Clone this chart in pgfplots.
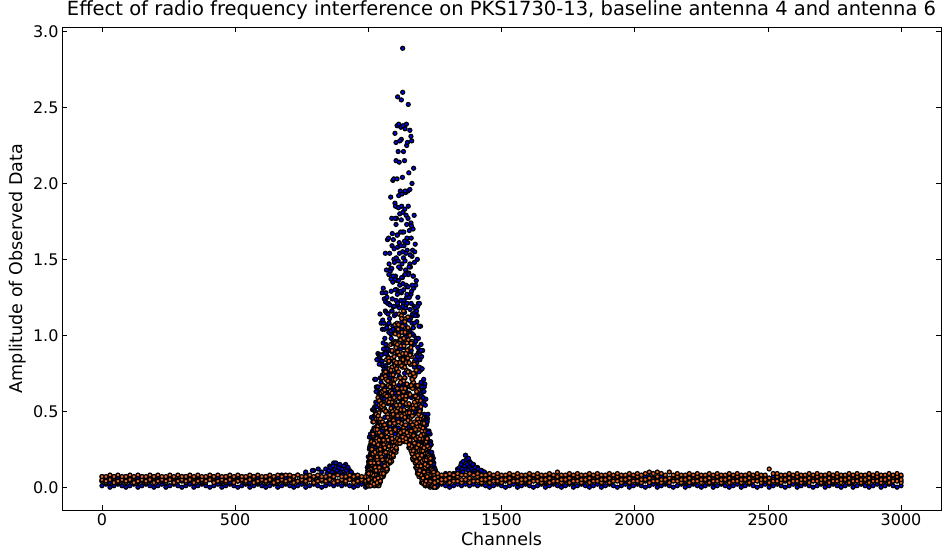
\documentclass[border=0pt]{standalone}
\usepackage{pgfplots}
\pgfplotsset{compat=1.18}
\usepackage{pgfplotstable}
\usepackage{fontspec}
\setmainfont{DejaVu Sans}
\definecolor{bfill}{RGB}{0,0,255}
\definecolor{ofill}{RGB}{240,105,40}
\pgfplotsset{
 bdot/.style={only marks, mark=*, mark size=2.0pt, mark options={fill=bfill, draw=black, line width=1.2pt}},
 odot/.style={only marks, mark=*, mark size=2.0pt, mark options={fill=ofill, draw=black, line width=1.2pt}},
}
\pgfplotstableread{
x b1 b2 b3 o1 o2 o3
0 0.01 0.04 0.07 0.04 0.05 0.07
15 0.02 0.05 0.06 0.03 0.04 0.07
30 0.00 0.03 0.06 0.05 0.05 0.08
45 0.01 0.05 0.07 0.03 0.06 0.07
60 0.02 0.03 0.06 0.04 0.04 0.08
75 0.01 0.04 0.05 0.04 0.05 0.07
90 0.00 0.05 0.07 0.03 0.04 0.07
105 0.01 0.04 0.07 0.05 0.05 0.08
120 0.02 0.05 0.06 0.03 0.06 0.07
135 0.00 0.03 0.06 0.04 0.04 0.08
150 0.01 0.05 0.07 0.04 0.05 0.07
165 0.02 0.03 0.06 0.03 0.04 0.07
180 0.01 0.04 0.05 0.05 0.05 0.08
195 0.00 0.05 0.07 0.03 0.06 0.07
210 0.01 0.04 0.07 0.04 0.04 0.08
225 0.02 0.05 0.06 0.04 0.05 0.07
240 0.00 0.03 0.06 0.03 0.04 0.07
255 0.01 0.05 0.07 0.05 0.05 0.08
270 0.02 0.03 0.06 0.03 0.06 0.07
285 0.01 0.04 0.05 0.04 0.04 0.08
300 0.00 0.05 0.07 0.04 0.05 0.07
315 0.01 0.04 0.07 0.03 0.04 0.07
330 0.02 0.05 0.06 0.05 0.05 0.08
345 0.00 0.03 0.06 0.03 0.06 0.07
360 0.01 0.05 0.07 0.04 0.04 0.08
375 0.02 0.03 0.06 0.04 0.05 0.07
390 0.01 0.04 0.05 0.03 0.04 0.07
405 0.00 0.05 0.07 0.05 0.05 0.08
420 0.01 0.04 0.07 0.03 0.06 0.07
435 0.02 0.05 0.06 0.04 0.04 0.08
450 0.00 0.03 0.06 0.04 0.05 0.07
465 0.01 0.05 0.07 0.03 0.04 0.07
480 0.02 0.03 0.06 0.05 0.05 0.08
495 0.01 0.04 0.05 0.03 0.06 0.07
510 0.00 0.05 0.07 0.04 0.04 0.08
525 0.01 0.04 0.07 0.04 0.05 0.07
540 0.02 0.05 0.06 0.03 0.04 0.07
555 0.00 0.03 0.06 0.05 0.05 0.08
570 0.01 0.05 0.07 0.03 0.06 0.07
585 0.02 0.03 0.06 0.04 0.04 0.08
600 0.01 0.04 0.05 0.04 0.05 0.07
615 0.00 0.05 0.07 0.03 0.04 0.07
630 0.01 0.04 0.07 0.05 0.05 0.08
645 0.02 0.05 0.06 0.03 0.06 0.07
660 0.00 0.03 0.06 0.04 0.04 0.08
675 0.01 0.05 0.08 0.04 0.05 0.07
690 0.02 0.03 0.06 0.03 0.04 0.08
705 0.01 0.04 0.05 0.05 0.05 0.08
720 0.00 0.05 0.07 0.03 0.06 0.07
735 0.01 0.04 0.08 0.04 0.04 0.08
750 0.02 0.05 0.06 0.04 0.05 0.07
765 0.00 0.03 0.09 0.03 0.04 0.07
780 0.01 0.05 0.07 0.05 0.05 0.08
795 0.02 0.03 0.11 0.03 0.06 0.07
810 0.01 0.04 0.07 0.04 0.04 0.08
825 0.00 0.05 0.10 0.04 0.05 0.07
840 0.01 0.06 0.12 0.03 0.04 0.07
855 0.02 0.08 0.14 0.05 0.05 0.08
870 0.01 0.09 0.16 0.03 0.06 0.07
885 0.02 0.10 0.15 0.04 0.04 0.08
900 0.01 0.08 0.13 0.04 0.05 0.07
915 0.02 0.07 0.15 0.03 0.04 0.07
930 0.01 0.06 0.11 0.05 0.05 0.08
945 0.00 0.05 0.08 0.03 0.06 0.07
960 0.01 0.04 0.07 0.04 0.04 0.08
975 0.02 0.05 0.06 0.04 0.05 0.07
990 0.00 0.03 0.06 0.03 0.04 0.07
1005 0.01 0.05 0.07 0.05 0.05 0.08
1020 0.02 0.03 0.06 0.03 0.06 0.07
1035 0.01 0.04 0.05 0.04 0.04 0.08
1215 0.01 0.04 0.07 0.04 0.05 0.08
1230 0.02 0.05 0.06 0.03 0.06 0.09
1245 0.00 0.03 0.06 0.05 0.04 0.08
1260 0.01 0.05 0.07 0.04 0.07 0.09
1275 0.02 0.03 0.06 0.03 0.05 0.08
1290 0.01 0.04 0.05 0.04 0.05 0.08
1305 0.00 0.05 0.07 0.03 0.06 0.09
1320 0.01 0.06 0.09 0.05 0.04 0.08
1335 0.02 0.08 0.12 0.04 0.07 0.09
1350 0.01 0.10 0.16 0.03 0.05 0.08
1365 0.02 0.12 0.21 0.04 0.05 0.08
1380 0.01 0.11 0.17 0.03 0.06 0.09
1395 0.02 0.09 0.15 0.05 0.04 0.08
1410 0.01 0.08 0.13 0.04 0.07 0.09
1425 0.02 0.06 0.11 0.03 0.05 0.08
1440 0.01 0.05 0.09 0.04 0.05 0.08
1455 0.00 0.03 0.06 0.03 0.06 0.09
1470 0.01 0.05 0.07 0.05 0.04 0.08
1485 0.02 0.03 0.06 0.04 0.07 0.09
1500 0.01 0.04 0.05 0.03 0.05 0.08
1515 0.00 0.05 0.07 0.04 0.05 0.08
1530 0.01 0.04 0.07 0.03 0.06 0.09
1545 0.02 0.05 0.06 0.05 0.04 0.08
1560 0.00 0.03 0.06 0.04 0.07 0.09
1575 0.01 0.05 0.07 0.03 0.05 0.08
1590 0.02 0.03 0.06 0.04 0.05 0.08
1605 0.01 0.04 0.05 0.03 0.06 0.09
1620 0.00 0.05 0.07 0.05 0.04 0.08
1635 0.01 0.04 0.07 0.04 0.07 0.09
1650 0.02 0.05 0.06 0.03 0.05 0.08
1665 0.00 0.03 0.06 0.04 0.05 0.08
1680 0.01 0.05 0.07 0.03 0.06 0.09
1695 0.02 0.03 0.06 0.05 0.04 0.08
1710 0.01 0.04 0.05 0.04 0.07 0.10
1725 0.00 0.05 0.07 0.03 0.05 0.08
1740 0.01 0.04 0.07 0.04 0.05 0.08
1755 0.02 0.05 0.06 0.03 0.06 0.09
1770 0.00 0.03 0.06 0.05 0.04 0.08
1785 0.01 0.05 0.07 0.04 0.07 0.09
1800 0.02 0.03 0.06 0.03 0.05 0.08
1815 0.01 0.04 0.05 0.04 0.05 0.08
1830 0.00 0.05 0.07 0.03 0.06 0.09
1845 0.01 0.04 0.07 0.05 0.04 0.08
1860 0.02 0.05 0.06 0.04 0.07 0.09
1875 0.00 0.03 0.06 0.03 0.05 0.08
1890 0.01 0.05 0.07 0.04 0.05 0.08
1905 0.02 0.03 0.06 0.03 0.06 0.09
1920 0.01 0.04 0.05 0.05 0.04 0.08
1935 0.00 0.05 0.07 0.04 0.07 0.09
1950 0.01 0.04 0.07 0.03 0.05 0.08
1965 0.02 0.05 0.06 0.04 0.05 0.08
1980 0.00 0.03 0.06 0.03 0.06 0.09
1995 0.01 0.05 0.07 0.05 0.04 0.08
2010 0.02 0.03 0.06 0.04 0.07 0.09
2025 0.01 0.04 0.05 0.03 0.05 0.08
2040 0.00 0.05 0.07 0.04 0.05 0.09
2055 0.01 0.04 0.07 0.03 0.06 0.10
2070 0.02 0.05 0.06 0.05 0.04 0.09
2085 0.00 0.03 0.06 0.04 0.07 0.10
2100 0.01 0.05 0.07 0.03 0.05 0.09
2115 0.02 0.03 0.06 0.04 0.05 0.08
2130 0.01 0.04 0.05 0.03 0.06 0.10
2145 0.00 0.05 0.07 0.05 0.04 0.08
2160 0.01 0.04 0.07 0.04 0.07 0.09
2175 0.02 0.05 0.06 0.03 0.05 0.08
2190 0.00 0.03 0.06 0.04 0.05 0.08
2205 0.01 0.05 0.07 0.03 0.06 0.09
2220 0.02 0.03 0.06 0.05 0.04 0.08
2235 0.01 0.04 0.05 0.04 0.07 0.09
2250 0.00 0.05 0.07 0.03 0.05 0.08
2265 0.01 0.04 0.07 0.04 0.05 0.08
2280 0.02 0.05 0.06 0.03 0.06 0.09
2295 0.00 0.03 0.06 0.05 0.04 0.08
2310 0.01 0.05 0.07 0.04 0.07 0.09
2325 0.02 0.03 0.06 0.03 0.05 0.08
2340 0.01 0.04 0.05 0.04 0.05 0.08
2355 0.00 0.05 0.07 0.03 0.06 0.09
2370 0.01 0.04 0.07 0.05 0.04 0.08
2385 0.02 0.05 0.06 0.04 0.07 0.09
2400 0.00 0.03 0.06 0.03 0.05 0.08
2415 0.01 0.05 0.07 0.04 0.05 0.08
2430 0.02 0.03 0.06 0.03 0.06 0.09
2445 0.01 0.04 0.05 0.05 0.04 0.08
2460 0.00 0.05 0.07 0.04 0.07 0.09
2475 0.01 0.04 0.07 0.03 0.05 0.08
2490 0.02 0.05 0.06 0.04 0.05 0.08
2505 0.00 0.03 0.06 0.03 0.06 0.12
2520 0.01 0.05 0.07 0.05 0.04 0.09
2535 0.02 0.03 0.06 0.04 0.07 0.09
2550 0.01 0.04 0.05 0.03 0.05 0.08
2565 0.00 0.05 0.07 0.04 0.05 0.08
2580 0.01 0.04 0.07 0.03 0.06 0.09
2595 0.02 0.05 0.06 0.05 0.04 0.08
2610 0.00 0.03 0.06 0.04 0.07 0.09
2625 0.01 0.05 0.07 0.03 0.05 0.08
2640 0.02 0.03 0.06 0.04 0.05 0.08
2655 0.01 0.04 0.05 0.03 0.06 0.09
2670 0.00 0.05 0.07 0.05 0.04 0.08
2685 0.01 0.04 0.07 0.04 0.07 0.09
2700 0.02 0.05 0.06 0.03 0.05 0.08
2715 0.00 0.03 0.06 0.04 0.05 0.08
2730 0.01 0.05 0.07 0.03 0.06 0.09
2745 0.02 0.03 0.06 0.05 0.04 0.08
2760 0.01 0.04 0.05 0.04 0.07 0.09
2775 0.00 0.05 0.07 0.03 0.05 0.08
2790 0.01 0.04 0.07 0.04 0.05 0.08
2805 0.02 0.05 0.06 0.03 0.06 0.09
2820 0.00 0.03 0.06 0.05 0.04 0.08
2835 0.01 0.05 0.07 0.04 0.07 0.09
2850 0.02 0.03 0.06 0.03 0.05 0.08
2865 0.01 0.04 0.05 0.04 0.05 0.08
2880 0.00 0.05 0.07 0.03 0.06 0.09
2895 0.01 0.04 0.07 0.05 0.04 0.08
2910 0.02 0.05 0.06 0.04 0.07 0.09
2925 0.00 0.03 0.06 0.03 0.05 0.08
2940 0.01 0.05 0.07 0.04 0.05 0.08
2955 0.02 0.03 0.06 0.03 0.06 0.09
2970 0.01 0.04 0.05 0.05 0.04 0.08
2985 0.00 0.05 0.07 0.04 0.07 0.09
3000 0.01 0.04 0.07 0.03 0.05 0.08
}\base
\pgfplotstableread{
x a b c d e
996 0.01 0.03 0.06 0.09 0.13
1000 0.02 0.04 0.09 0.14 0.20
1004 0.01 0.10 0.16 0.25 0.33
1008 0.05 0.13 0.22 0.28 0.35
1012 0.03 0.10 0.22 0.29 0.46
1016 0.02 0.13 0.24 0.37 0.51
1020 0.06 0.11 0.23 0.36 0.51
1024 0.02 0.21 0.35 0.53 0.71
1028 0.10 0.26 0.44 0.56 0.71
1032 0.06 0.17 0.40 0.53 0.84
1036 0.04 0.22 0.41 0.63 0.88
1040 0.10 0.19 0.39 0.61 0.87
1044 0.03 0.34 0.57 0.84 1.14
1048 0.17 0.42 0.69 0.87 1.08
1052 0.11 0.29 0.63 0.83 1.28
1056 0.11 0.36 0.64 0.95 1.31
1060 0.19 0.31 0.58 0.88 1.24
1064 0.10 0.50 0.80 1.16 1.54
1068 0.27 0.58 0.92 1.15 1.43
1072 0.20 0.42 0.84 1.07 1.63
1076 0.18 0.49 0.82 1.21 1.64
1080 0.29 0.43 0.76 1.11 1.54
1084 0.18 0.66 1.01 1.44 1.91
1088 0.38 0.75 1.16 1.44 1.77
1092 0.29 0.56 1.06 1.35 2.02
1096 0.26 0.64 1.04 1.50 2.03
1100 0.39 0.56 0.94 1.37 1.87
1104 0.25 0.82 1.23 1.73 2.27
1108 0.49 0.90 1.36 1.66 2.03
1112 0.37 0.65 1.19 1.49 2.21
1116 0.35 0.73 1.14 1.61 2.14
1120 0.46 0.63 1.02 1.44 1.95
1124 0.32 0.87 1.28 1.76 2.29
1128 0.53 0.94 1.38 1.68 2.04
1132 0.41 0.68 1.21 1.51 2.21
1136 0.36 0.75 1.15 1.62 2.15
1140 0.46 0.63 1.01 1.43 1.94
1144 0.31 0.85 1.25 1.73 2.25
1148 0.50 0.89 1.32 1.61 1.95
1152 0.36 0.62 1.12 1.41 2.07
1156 0.30 0.66 1.03 1.47 1.96
1160 0.38 0.53 0.88 1.27 1.74
1164 0.22 0.72 1.08 1.52 2.00
1168 0.38 0.74 1.13 1.39 1.70
1172 0.25 0.48 0.94 1.19 1.79
1176 0.19 0.49 0.81 1.18 1.60
1180 0.24 0.37 0.66 0.98 1.36
1184 0.11 0.50 0.79 1.13 1.50
1188 0.23 0.49 0.78 0.98 1.21
1192 0.13 0.29 0.61 0.79 1.21
1196 0.08 0.29 0.51 0.77 1.06
1200 0.11 0.20 0.39 0.60 0.86
1204 0.03 0.27 0.45 0.67 0.90
1208 0.10 0.26 0.44 0.56 0.71
1212 0.04 0.14 0.33 0.44 0.68
1216 0.03 0.15 0.27 0.42 0.58
1220 0.05 0.10 0.20 0.32 0.46
1224 0.01 0.14 0.24 0.35 0.48
1228 0.05 0.14 0.23 0.29 0.37
1232 0.02 0.07 0.17 0.22 0.35
1236 0.01 0.07 0.13 0.20 0.28
1240 0.02 0.04 0.09 0.14 0.21
1244 0.00 0.06 0.09 0.14 0.19
1248 0.02 0.05 0.08 0.11 0.13
1252 0.01 0.02 0.05 0.07 0.11
1256 0.00 0.02 0.04 0.06 0.09
1260 0.01 0.03 0.05 0.07 0.08
}\bpeak
\pgfplotstableread{
x a b c d
998 0.02 0.05 0.08 0.11
1002 0.03 0.07 0.11 0.16
1006 0.07 0.13 0.20 0.27
1010 0.06 0.14 0.21 0.30
1014 0.05 0.14 0.23 0.31
1018 0.12 0.22 0.32 0.45
1022 0.10 0.21 0.33 0.47
1026 0.08 0.20 0.34 0.47
1030 0.17 0.32 0.48 0.66
1034 0.14 0.30 0.46 0.66
1038 0.10 0.27 0.45 0.62
1042 0.22 0.42 0.62 0.86
1046 0.19 0.40 0.61 0.87
1050 0.15 0.37 0.60 0.81
1054 0.30 0.55 0.80 1.10
1058 0.26 0.52 0.77 1.08
1062 0.21 0.46 0.73 0.98
1066 0.38 0.66 0.94 1.28
1070 0.32 0.61 0.89 1.25
1074 0.27 0.55 0.86 1.14
1078 0.46 0.77 1.08 1.47
1082 0.40 0.72 1.03 1.42
1086 0.33 0.64 0.98 1.29
1090 0.54 0.89 1.24 1.67
1094 0.47 0.84 1.19 1.63
1098 0.39 0.75 1.13 1.48
1102 0.62 1.01 1.39 1.85
1106 0.54 0.93 1.30 1.77
1110 0.45 0.82 1.21 1.58
1114 0.67 1.06 1.45 1.92
1118 0.58 0.97 1.33 1.80
1122 0.48 0.85 1.23 1.59
1126 0.70 1.09 1.47 1.93
1130 0.60 0.98 1.34 1.81
1134 0.49 0.85 1.23 1.59
1138 0.72 1.07 1.49 1.95
1142 0.59 0.97 1.33 1.79
1146 0.48 0.83 1.21 1.56
1150 0.67 1.04 1.40 1.85
1154 0.54 0.90 1.25 1.69
1158 0.42 0.75 1.11 1.45
1162 0.59 0.94 1.29 1.72
1166 0.47 0.81 1.14 1.56
1170 0.35 0.66 1.00 1.31
1174 0.50 0.83 1.15 1.55
1178 0.37 0.67 0.96 1.33
1182 0.26 0.53 0.82 1.09
1186 0.38 0.65 0.92 1.25
1190 0.27 0.52 0.76 1.06
1194 0.18 0.39 0.62 0.84
1198 0.26 0.48 0.69 0.94
1202 0.18 0.37 0.55 0.78
1206 0.10 0.26 0.43 0.59
1210 0.17 0.32 0.48 0.66
1214 0.11 0.25 0.38 0.54
1218 0.07 0.18 0.30 0.41
1222 0.12 0.22 0.32 0.45
1226 0.08 0.17 0.25 0.36
1230 0.04 0.12 0.20 0.27
1234 0.08 0.14 0.21 0.30
1238 0.05 0.11 0.16 0.23
1242 0.03 0.07 0.12 0.16
1246 0.04 0.08 0.11 0.16
1250 0.02 0.05 0.08 0.12
1254 0.01 0.03 0.05 0.07
1258 0.02 0.04 0.06 0.08
}\bpeakb
\pgfplotstableread{
x a b c d
1001 0.03 0.08 0.12 0.17
1005 0.02 0.13 0.18 0.26
1009 0.08 0.11 0.18 0.25
1013 0.07 0.15 0.24 0.33
1017 0.04 0.21 0.30 0.43
1021 0.12 0.17 0.28 0.39
1025 0.10 0.23 0.36 0.50
1029 0.06 0.31 0.44 0.63
1033 0.17 0.24 0.40 0.55
1037 0.13 0.30 0.48 0.66
1041 0.08 0.40 0.57 0.81
1045 0.22 0.32 0.52 0.72
1049 0.19 0.40 0.63 0.87
1053 0.13 0.52 0.74 1.04
1057 0.31 0.42 0.67 0.91
1061 0.25 0.51 0.78 1.04
1065 0.18 0.63 0.88 1.22
1069 0.37 0.50 0.78 1.05
1073 0.32 0.60 0.91 1.21
1077 0.23 0.74 1.02 1.40
1081 0.45 0.60 0.90 1.20
1085 0.38 0.70 1.03 1.37
1089 0.29 0.85 1.16 1.59
1093 0.53 0.70 1.04 1.39
1097 0.45 0.81 1.19 1.57
1101 0.35 0.96 1.30 1.77
1105 0.60 0.77 1.14 1.51
1109 0.51 0.88 1.27 1.66
1113 0.39 1.02 1.36 1.84
1117 0.65 0.82 1.18 1.54
1121 0.55 0.91 1.29 1.68
1125 0.43 1.04 1.38 1.85
1129 0.66 0.83 1.19 1.55
1133 0.56 0.92 1.30 1.68
1137 0.45 1.01 1.40 1.83
1141 0.65 0.82 1.18 1.54
1145 0.54 0.89 1.27 1.64
1149 0.40 0.99 1.32 1.77
1153 0.60 0.76 1.10 1.45
1157 0.48 0.81 1.17 1.53
1161 0.34 0.90 1.21 1.64
1165 0.53 0.68 1.01 1.33
1169 0.40 0.72 1.05 1.39
1173 0.27 0.79 1.08 1.48
1177 0.42 0.56 0.84 1.13
1181 0.31 0.58 0.87 1.16
1185 0.19 0.62 0.86 1.19
1189 0.31 0.42 0.66 0.89
1193 0.22 0.43 0.66 0.89
1197 0.11 0.45 0.64 0.90
1201 0.21 0.30 0.48 0.66
1205 0.13 0.29 0.46 0.63
1209 0.06 0.31 0.44 0.63
1213 0.14 0.20 0.32 0.45
1217 0.09 0.20 0.32 0.44
1221 0.04 0.21 0.30 0.43
1225 0.09 0.13 0.22 0.30
1229 0.06 0.13 0.21 0.29
1233 0.03 0.14 0.20 0.28
1237 0.06 0.08 0.14 0.19
1241 0.03 0.08 0.12 0.17
1245 0.01 0.07 0.10 0.15
1249 0.03 0.04 0.07 0.10
1253 0.02 0.04 0.06 0.08
1257 0.01 0.04 0.05 0.07
}\bpeakc
\pgfplotstableread{
x a b c d
1000 0.01 0.04 0.07 0.10
1004 0.02 0.07 0.12 0.17
1008 0.01 0.06 0.12 0.19
1012 0.05 0.11 0.20 0.30
1016 0.02 0.12 0.22 0.34
1020 0.05 0.17 0.29 0.43
1024 0.01 0.11 0.24 0.38
1028 0.08 0.18 0.32 0.49
1032 0.03 0.17 0.32 0.49
1036 0.07 0.24 0.40 0.59
1040 0.01 0.14 0.31 0.49
1044 0.11 0.23 0.42 0.62
1048 0.06 0.23 0.41 0.62
1052 0.12 0.31 0.51 0.72
1056 0.07 0.22 0.41 0.61
1060 0.18 0.31 0.52 0.75
1064 0.11 0.30 0.50 0.73
1068 0.18 0.38 0.60 0.84
1072 0.12 0.28 0.48 0.70
1076 0.23 0.38 0.60 0.85
1080 0.17 0.38 0.58 0.83
1084 0.24 0.46 0.69 0.94
1088 0.17 0.34 0.56 0.79
1092 0.30 0.46 0.69 0.95
1096 0.23 0.45 0.68 0.95
1100 0.31 0.55 0.80 1.07
1104 0.23 0.42 0.66 0.92
1108 0.37 0.54 0.79 1.08
1112 0.29 0.52 0.76 1.04
1116 0.37 0.61 0.87 1.14
1120 0.29 0.48 0.72 0.97
1124 0.42 0.59 0.84 1.13
1128 0.33 0.56 0.79 1.06
1132 0.39 0.63 0.88 1.16
1136 0.30 0.48 0.72 0.97
1140 0.41 0.58 0.83 1.11
1144 0.32 0.54 0.77 1.04
1148 0.37 0.60 0.85 1.12
1152 0.26 0.44 0.67 0.91
1156 0.35 0.51 0.74 1.00
1160 0.24 0.46 0.67 0.92
1164 0.28 0.49 0.71 0.96
1168 0.18 0.33 0.54 0.75
1172 0.25 0.39 0.60 0.82
1176 0.16 0.34 0.52 0.74
1180 0.18 0.37 0.56 0.77
1184 0.09 0.23 0.40 0.58
1188 0.16 0.27 0.44 0.64
1192 0.08 0.23 0.38 0.56
1196 0.10 0.25 0.40 0.57
1200 0.03 0.14 0.27 0.42
1204 0.09 0.18 0.31 0.46
1208 0.02 0.14 0.26 0.41
1212 0.05 0.17 0.29 0.42
1216 0.01 0.09 0.19 0.30
1220 0.05 0.12 0.22 0.32
1224 0.02 0.10 0.18 0.27
1228 0.03 0.10 0.18 0.26
1232 0.00 0.05 0.11 0.17
1236 0.03 0.06 0.11 0.16
1240 0.01 0.04 0.08 0.12
1244 0.01 0.04 0.07 0.10
1248 0.00 0.02 0.04 0.07
}\opeak
\pgfplotstableread{
x a b c
1002 0.01 0.04 0.11
1006 0.02 0.08 0.17
1010 0.01 0.09 0.17
1014 0.02 0.09 0.26
1018 0.04 0.17 0.34
1022 0.01 0.14 0.29
1026 0.03 0.13 0.36
1030 0.06 0.22 0.45
1034 0.02 0.18 0.36
1038 0.04 0.16 0.45
1042 0.07 0.27 0.54
1046 0.04 0.22 0.43
1050 0.07 0.20 0.53
1054 0.11 0.34 0.63
1058 0.08 0.28 0.51
1062 0.11 0.26 0.61
1066 0.15 0.39 0.71
1070 0.11 0.33 0.57
1074 0.15 0.31 0.67
1078 0.20 0.45 0.78
1082 0.16 0.38 0.63
1086 0.20 0.36 0.74
1090 0.25 0.50 0.85
1094 0.20 0.44 0.71
1098 0.24 0.42 0.83
1102 0.30 0.58 0.95
1106 0.25 0.50 0.78
1110 0.29 0.47 0.89
1114 0.34 0.62 1.00
1118 0.29 0.54 0.82
1122 0.33 0.51 0.93
1126 0.37 0.65 1.02
1130 0.31 0.56 0.84
1134 0.34 0.51 0.93
1138 0.37 0.65 1.02
1142 0.30 0.55 0.82
1146 0.32 0.49 0.90
1150 0.34 0.61 0.97
1154 0.26 0.49 0.76
1158 0.26 0.43 0.81
1162 0.27 0.52 0.86
1166 0.19 0.41 0.65
1170 0.20 0.34 0.69
1174 0.20 0.43 0.73
1178 0.13 0.32 0.54
1182 0.13 0.26 0.57
1186 0.14 0.33 0.59
1190 0.07 0.24 0.43
1194 0.08 0.19 0.45
1198 0.08 0.24 0.47
1202 0.03 0.17 0.32
1206 0.03 0.13 0.35
1210 0.05 0.18 0.37
1214 0.01 0.13 0.25
1218 0.02 0.10 0.27
1222 0.03 0.14 0.27
1226 0.01 0.09 0.18
1230 0.02 0.06 0.18
1234 0.02 0.08 0.16
1238 0.01 0.05 0.10
1242 0.01 0.03 0.09
1246 0.01 0.04 0.08
}\opeakb
\pgfplotstableread{
x a b c
1001 0.01 0.05 0.09
1005 0.04 0.10 0.16
1009 0.01 0.09 0.16
1013 0.03 0.15 0.25
1017 0.08 0.22 0.35
1021 0.02 0.16 0.29
1025 0.05 0.23 0.38
1029 0.11 0.30 0.48
1033 0.03 0.20 0.38
1037 0.06 0.28 0.47
1041 0.13 0.36 0.57
1045 0.04 0.25 0.45
1049 0.09 0.34 0.55
1053 0.18 0.43 0.67
1057 0.09 0.31 0.54
1061 0.14 0.41 0.64
1065 0.23 0.50 0.76
1069 0.12 0.36 0.60
1073 0.18 0.46 0.70
1077 0.27 0.56 0.83
1081 0.17 0.42 0.66
1085 0.22 0.52 0.77
1089 0.32 0.62 0.90
1093 0.21 0.48 0.74
1097 0.27 0.59 0.86
1101 0.38 0.71 1.01
1105 0.26 0.54 0.82
1109 0.32 0.65 0.94
1113 0.43 0.76 1.07
1117 0.31 0.59 0.87
1121 0.36 0.69 0.97
1125 0.47 0.80 1.11
1129 0.33 0.60 0.88
1133 0.37 0.70 0.98
1137 0.46 0.79 1.09
1141 0.32 0.60 0.88
1145 0.36 0.68 0.95
1149 0.44 0.76 1.05
1153 0.28 0.55 0.82
1157 0.31 0.61 0.87
1161 0.37 0.67 0.95
1165 0.22 0.47 0.71
1169 0.24 0.52 0.75
1173 0.29 0.56 0.81
1177 0.16 0.38 0.60
1181 0.17 0.42 0.63
1185 0.21 0.45 0.67
1189 0.09 0.28 0.48
1193 0.11 0.32 0.50
1197 0.14 0.34 0.53
1201 0.05 0.21 0.37
1205 0.06 0.24 0.39
1209 0.10 0.26 0.42
1213 0.02 0.15 0.29
1217 0.04 0.18 0.30
1221 0.07 0.20 0.32
1225 0.02 0.11 0.21
1229 0.03 0.12 0.20
1233 0.04 0.12 0.19
1237 0.01 0.06 0.12
1241 0.01 0.06 0.11
1245 0.02 0.06 0.10
1249 0.00 0.03 0.06
}\opeakc
\begin{document}
\begin{tikzpicture}
\useasboundingbox (-62pt,-41pt) rectangle (882pt,510pt);
\begin{axis}[
 scale only axis, width=879pt, height=483pt,
 xmin=-150, xmax=3150, ymin=-0.15, ymax=3.03,
 xtick={0,500,...,3000}, ytick={0,0.5,1.0,1.5,2.0,2.5,3.0},
 tick align=inside, tick pos=both, major tick length=5pt,
 tick style={black, line width=0.6pt},
 axis line style={black, line width=0.8pt},
 /pgf/number format/assume math mode=true,
 /pgf/number format/1000 sep={},
 yticklabel style={/pgf/number format/fixed, /pgf/number format/fixed zerofill, /pgf/number format/precision=1},
 ticklabel style={font=\fontsize{16}{19}\selectfont},
 label style={font=\fontsize{17.5}{21}\selectfont},
 title style={font=\fontsize{19.5}{23}\selectfont, at={(0.5,1)}, anchor=base, yshift=5pt},
 title={Effect of radio frequency interference on PKS1730-13, baseline antenna 4 and antenna 6},
 xlabel={Channels}, ylabel={Amplitude of Observed Data},
 clip=true,
]
\addplot[bdot] table[x=x,y=b1]{\base};
\addplot[bdot] table[x=x,y=b2]{\base};
\addplot[bdot] table[x=x,y=b3]{\base};
\addplot[bdot] coordinates {(765,0.10) (790,0.11) (812,0.12) (845,0.09) (852,0.11) (858,0.13) (864,0.10) (868,0.14) (874,0.12) (878,0.16) (883,0.11) (888,0.13) (893,0.15) (897,0.10) (902,0.12) (908,0.14) (912,0.09) (918,0.11) (924,0.13) (930,0.08) (936,0.10) (890,0.09) (872,0.08) (905,0.08) (860,0.07)};
\addplot[bdot] coordinates {(1330,0.09) (1337,0.11) (1343,0.13) (1348,0.15) (1352,0.12) (1357,0.17) (1361,0.14) (1365,0.21) (1368,0.18) (1372,0.15) (1376,0.19) (1380,0.13) (1384,0.16) (1388,0.12) (1392,0.15) (1397,0.11) (1402,0.13) (1407,0.10) (1412,0.12) (1418,0.09) (1424,0.11) (1430,0.08) (1436,0.10) (1442,0.08) (1355,0.10) (1375,0.11) (1395,0.09) (1290,0.09)};
\addplot[bdot] table[x=x,y=a]{\bpeak};
\addplot[bdot] table[x=x,y=b]{\bpeak};
\addplot[bdot] table[x=x,y=c]{\bpeak};
\addplot[bdot] table[x=x,y=d]{\bpeak};
\addplot[bdot] table[x=x,y=e]{\bpeak};
\addplot[bdot] table[x=x,y=a]{\bpeakb};
\addplot[bdot] table[x=x,y=b]{\bpeakb};
\addplot[bdot] table[x=x,y=c]{\bpeakb};
\addplot[bdot] table[x=x,y=d]{\bpeakb};
\addplot[bdot] table[x=x,y=a]{\bpeakc};
\addplot[bdot] table[x=x,y=b]{\bpeakc};
\addplot[bdot] table[x=x,y=c]{\bpeakc};
\addplot[bdot] table[x=x,y=d]{\bpeakc};
\addplot[bdot] coordinates {(1129,2.89) (1110,2.57) (1129,2.60) (1124,2.55) (1150,2.52) (1108,2.38) (1114,2.39) (1122,2.37) (1130,2.38) (1138,2.36) (1143,2.39) (1156,2.35) (1160,2.31) (1100,2.33) (1104,2.15) (1163,2.28) (1118,2.28) (1147,2.27) (1170,2.10)};
\addplot[odot] table[x=x,y=o1]{\base};
\addplot[odot] table[x=x,y=o2]{\base};
\addplot[odot] table[x=x,y=o3]{\base};
\addplot[odot] table[x=x,y=a]{\opeak};
\addplot[odot] table[x=x,y=b]{\opeak};
\addplot[odot] table[x=x,y=c]{\opeak};
\addplot[odot] table[x=x,y=d]{\opeak};
\addplot[odot] table[x=x,y=a]{\opeakb};
\addplot[odot] table[x=x,y=b]{\opeakb};
\addplot[odot] table[x=x,y=c]{\opeakb};
\addplot[odot] table[x=x,y=a]{\opeakc};
\addplot[odot] table[x=x,y=b]{\opeakc};
\addplot[odot] table[x=x,y=c]{\opeakc};
\end{axis}
\end{tikzpicture}
\end{document}
